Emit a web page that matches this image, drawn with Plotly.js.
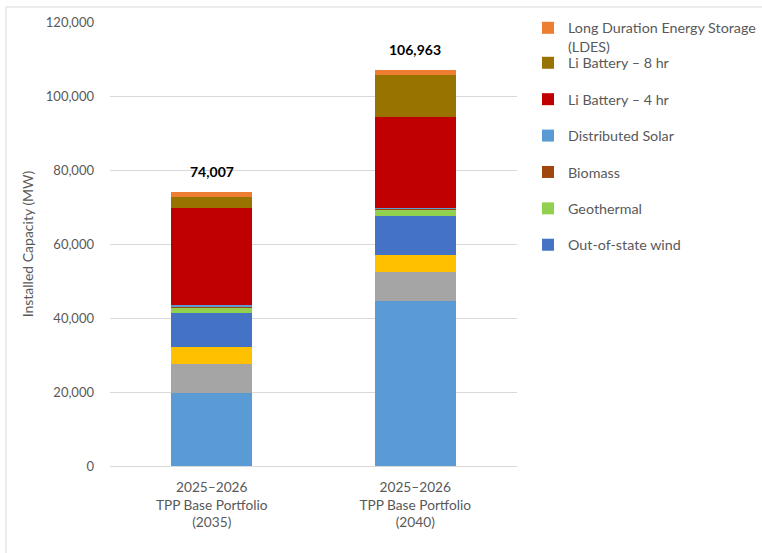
<!DOCTYPE html>
<html>
<head>
<meta charset="utf-8">
<script src="https://cdn.plot.ly/plotly-3.0.1.min.js"></script>
<style>html,body{margin:0;padding:0;background:#fff;}#chart{width:762px;height:553px;}</style>
</head>
<body>
<div id="chart"></div>
<script>
const categories = ["2025\u20132026<br>TPP Base Portfolio<br>(2035)", "2025\u20132026<br>TPP Base Portfolio<br>(2040)"];

// Series, bottom of stack to top
const utilitySolar   = [19800, 44600];
const inStateWind    = [7800, 7900];
const offshoreWind   = [4500, 4400];
const outOfStateWind = [9200, 10700];
const geothermal     = [1500, 1600];
const biomass        = [300, 300];
const distSolar      = [300, 300];
const li4hr          = [26400, 24400];
const li8hr          = [2800, 11600];
const ldes           = [1407, 1163];

const totals = [74007, 106963];
const yTickVals = [0, 20000, 40000, 60000, 80000, 100000, 120000];

const series = [
  {name: "Utility Solar", y: utilitySolar, color: "#5B9BD5", legend: null},
  {name: "In-state wind", y: inStateWind, color: "#A5A5A5", legend: null},
  {name: "Offshore wind", y: offshoreWind, color: "#FFC000", legend: null},
  {name: "Out-of-state wind", y: outOfStateWind, color: "#4472C4", legend: "legend2"},
  {name: "Geothermal", y: geothermal, color: "#92D050", legend: "legend2"},
  {name: "Biomass", y: biomass, color: "#9E480E", legend: "legend2"},
  {name: "Distributed Solar", y: distSolar, color: "#5B9BD5", legend: "legend2"},
  {name: "Li Battery \u2013 4 hr", y: li4hr, color: "#C00000", legend: "legend2"},
  {name: "Li Battery \u2013 8 hr", y: li8hr, color: "#997300", legend: "legend2"},
  {name: "Long Duration Energy Storage<br>(LDES)", y: ldes, color: "#ED7D31", legend: "legend"}
];

const traces = series.map((s, i) => ({
  type: "bar",
  x: categories,
  y: s.y,
  name: s.name,
  marker: {color: s.color, line: {width: 0}},
  showlegend: s.legend !== null,
  legend: s.legend || "legend",
  legendgroup: "g" + i,
  legendrank: 100 - i,
  hoverinfo: "skip"
}));

const fam = "Lato, 'Open Sans', sans-serif";
const tickFont = {family: fam, size: 13, color: "#595959"};
const xFont = {family: fam, size: 13.7, color: "#595959"};
const legFont = {family: fam, size: 14.3, color: "#595959"};

const annotations = categories.map((c, i) => ({
  x: c, y: totals[i], xref: "x", yref: "y",
  text: "<b>" + totals[i].toLocaleString("en-US") + "</b>",
  showarrow: false, yanchor: "bottom", yshift: 10,
  font: {family: fam, size: 14, color: "#000000"}
}));

const layout = {
  width: 762, height: 553,
  margin: {l: 110, r: 245, t: 22, b: 87},
  paper_bgcolor: "#ffffff", plot_bgcolor: "#ffffff",
  barmode: "stack",
  bargap: 0.6,
  font: tickFont,
  xaxis: {
    type: "category",
    showgrid: false, zeroline: false, showline: false,
    ticks: "", tickfont: xFont, automargin: false,
    ticklabelstandoff: 11
  },
  yaxis: {
    range: [0, 120000],
    tickvals: yTickVals,
    tickformat: ",d",
    showgrid: true, gridcolor: "#D9D9D9", gridwidth: 1,
    zeroline: true, zerolinecolor: "#D9D9D9", zerolinewidth: 1,
    showline: false, ticks: "",
    tickfont: tickFont,
    ticklabelstandoff: 15,
    automargin: false,
    title: {text: "Installed Capacity (MW)", font: {family: fam, size: 14, color: "#595959"}, standoff: 8}
  },
  legend: {
    xref: "container", yref: "container",
    x: 528 / 762, y: 1 - 12 / 553, xanchor: "left", yanchor: "top",
    font: legFont, valign: "top", bgcolor: "rgba(0,0,0,0)"
  },
  legend2: {
    xref: "container", yref: "container",
    x: 528 / 762, y: 1 - 47 / 553, xanchor: "left", yanchor: "top",
    font: legFont, traceorder: "grouped", tracegroupgap: 14.8,
    bgcolor: "rgba(0,0,0,0)"
  },
  annotations: annotations,
  shapes: [{
    type: "rect", xref: "paper", yref: "paper",
    x0: (6 - 110) / 407, x1: 1.7, y0: -0.3, y1: (466 - 7) / 444,
    line: {color: "#D9D9D9", width: 1}, fillcolor: "rgba(0,0,0,0)", layer: "below"
  }]
};

Plotly.newPlot("chart", traces, layout, {displayModeBar: false, staticPlot: true});
</script>
</body>
</html>
